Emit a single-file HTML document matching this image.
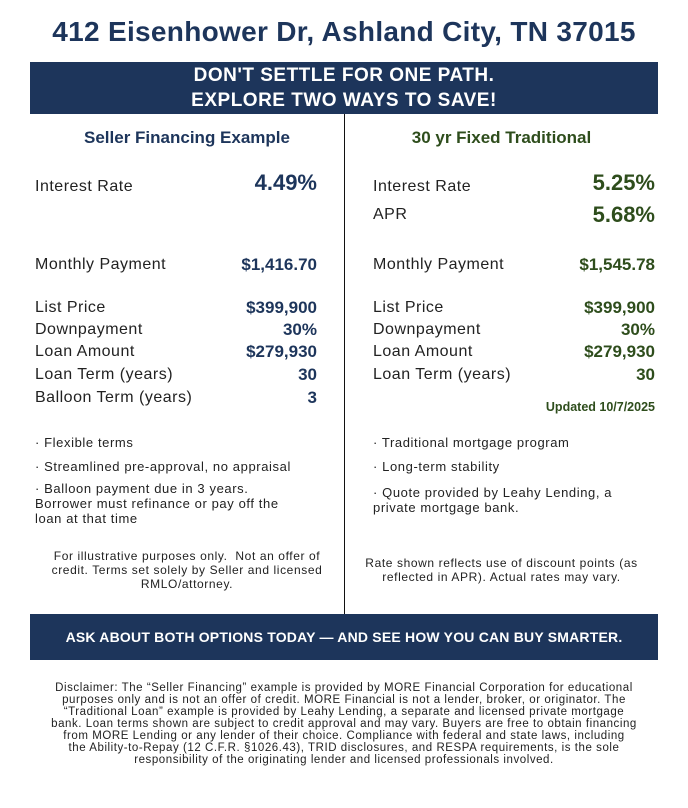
<!DOCTYPE html>
<html><head><meta charset="utf-8"><style>
body{margin:0;width:688px;height:808px;background:#fff;position:relative;font-family:"Liberation Sans",sans-serif;overflow:hidden}
.a{position:absolute;white-space:nowrap}
.n{color:#1d355b}.g{color:#2e4d1c}
.L{left:35px}.R{left:373px}
.lv{right:371px;text-align:right}.rv{right:33px;text-align:right}
.lab{font-size:16px;letter-spacing:0.5px;color:#222;line-height:18px}
.v{font-weight:bold;font-size:17px;line-height:18px}
.big{font-weight:bold;font-size:22px;line-height:24px}
.b{font-size:13px;letter-spacing:0.6px;color:#222;line-height:15px}
.f{font-size:12px;letter-spacing:0.6px;color:#222;line-height:14px;text-align:center}
</style></head><body>
<div class="a n" style="left:0;width:688px;text-align:center;top:16px;font-size:28px;letter-spacing:0.3px;font-weight:bold;line-height:32px">412 Eisenhower Dr, Ashland City, TN 37015</div>
<div class="a" style="left:30px;width:628px;top:62px;height:52px;background:#1d355b"></div>
<div class="a" style="left:30px;width:628px;top:63px;text-align:center;color:#fff;font-weight:bold;font-size:19px;letter-spacing:0.5px;line-height:25px">DON'T SETTLE FOR ONE PATH.<br>EXPLORE TWO WAYS TO SAVE!</div>
<div class="a" style="left:344px;top:114px;width:1px;height:500px;background:#111"></div>
<div class="a n" style="left:30px;width:314px;text-align:center;top:128px;font-size:17px;font-weight:bold;line-height:20px">Seller Financing Example</div>
<div class="a g" style="left:345px;width:313px;text-align:center;top:128px;font-size:17px;font-weight:bold;line-height:20px">30 yr Fixed Traditional</div>

<div class="a lab L" style="top:178px">Interest Rate</div><div class="a big n lv" style="top:171px">4.49%</div>
<div class="a lab R" style="top:178px">Interest Rate</div><div class="a big g rv" style="top:171px">5.25%</div>
<div class="a lab R" style="top:206px">APR</div><div class="a big g rv" style="top:203px">5.68%</div>

<div class="a lab L" style="top:256px">Monthly Payment</div><div class="a v n lv" style="top:256px">$1,416.70</div>
<div class="a lab R" style="top:256px">Monthly Payment</div><div class="a v g rv" style="top:256px">$1,545.78</div>

<div class="a lab L" style="top:299px">List Price</div><div class="a v n lv" style="top:299px">$399,900</div>
<div class="a lab L" style="top:321px">Downpayment</div><div class="a v n lv" style="top:321px">30%</div>
<div class="a lab L" style="top:343px">Loan Amount</div><div class="a v n lv" style="top:343px">$279,930</div>
<div class="a lab L" style="top:366px">Loan Term (years)</div><div class="a v n lv" style="top:366px">30</div>
<div class="a lab L" style="top:389px">Balloon Term (years)</div><div class="a v n lv" style="top:389px">3</div>

<div class="a lab R" style="top:299px">List Price</div><div class="a v g rv" style="top:299px">$399,900</div>
<div class="a lab R" style="top:321px">Downpayment</div><div class="a v g rv" style="top:321px">30%</div>
<div class="a lab R" style="top:343px">Loan Amount</div><div class="a v g rv" style="top:343px">$279,930</div>
<div class="a lab R" style="top:366px">Loan Term (years)</div><div class="a v g rv" style="top:366px">30</div>
<div class="a g rv" style="top:400px;font-size:12.5px;font-weight:bold;line-height:15px">Updated 10/7/2025</div>

<div class="a b L" style="top:435px">· Flexible terms</div>
<div class="a b L" style="top:459px">· Streamlined pre-approval, no appraisal</div>
<div class="a b L" style="top:481px">· Balloon payment due in 3 years.<br>Borrower must refinance or pay off the<br>loan at that time</div>
<div class="a b R" style="top:435px">· Traditional mortgage program</div>
<div class="a b R" style="top:459px">· Long-term stability</div>
<div class="a b R" style="top:485px">· Quote provided by Leahy Lending, a<br>private mortgage bank.</div>

<div class="a f" style="left:30px;width:314px;top:549px">For illustrative purposes only.&nbsp; Not an offer of<br>credit. Terms set solely by Seller and licensed<br>RMLO/attorney.</div>
<div class="a f" style="left:345px;width:313px;top:556px">Rate shown reflects use of discount points (as<br>reflected in APR). Actual rates may vary.</div>

<div class="a" style="left:30px;width:628px;top:614px;height:46px;background:#1d355b"></div>
<div class="a" style="left:30px;width:628px;top:629px;text-align:center;color:#fff;font-weight:bold;font-size:14px;letter-spacing:0.2px;line-height:16px">ASK ABOUT BOTH OPTIONS TODAY — AND SEE HOW YOU CAN BUY SMARTER.</div>

<div class="a f" style="left:0;width:688px;top:682px;font-size:11.5px;letter-spacing:0.55px;line-height:12px">Disclaimer: The “Seller Financing” example is provided by MORE Financial Corporation for educational<br>purposes only and is not an offer of credit. MORE Financial is not a lender, broker, or originator. The<br>“Traditional Loan” example is provided by Leahy Lending, a separate and licensed private mortgage<br>bank. Loan terms shown are subject to credit approval and may vary. Buyers are free to obtain financing<br>from MORE Lending or any lender of their choice. Compliance with federal and state laws, including<br>the Ability-to-Repay (12 C.F.R. §1026.43), TRID disclosures, and RESPA requirements, is the sole<br>responsibility of the originating lender and licensed professionals involved.</div>
</body></html>
